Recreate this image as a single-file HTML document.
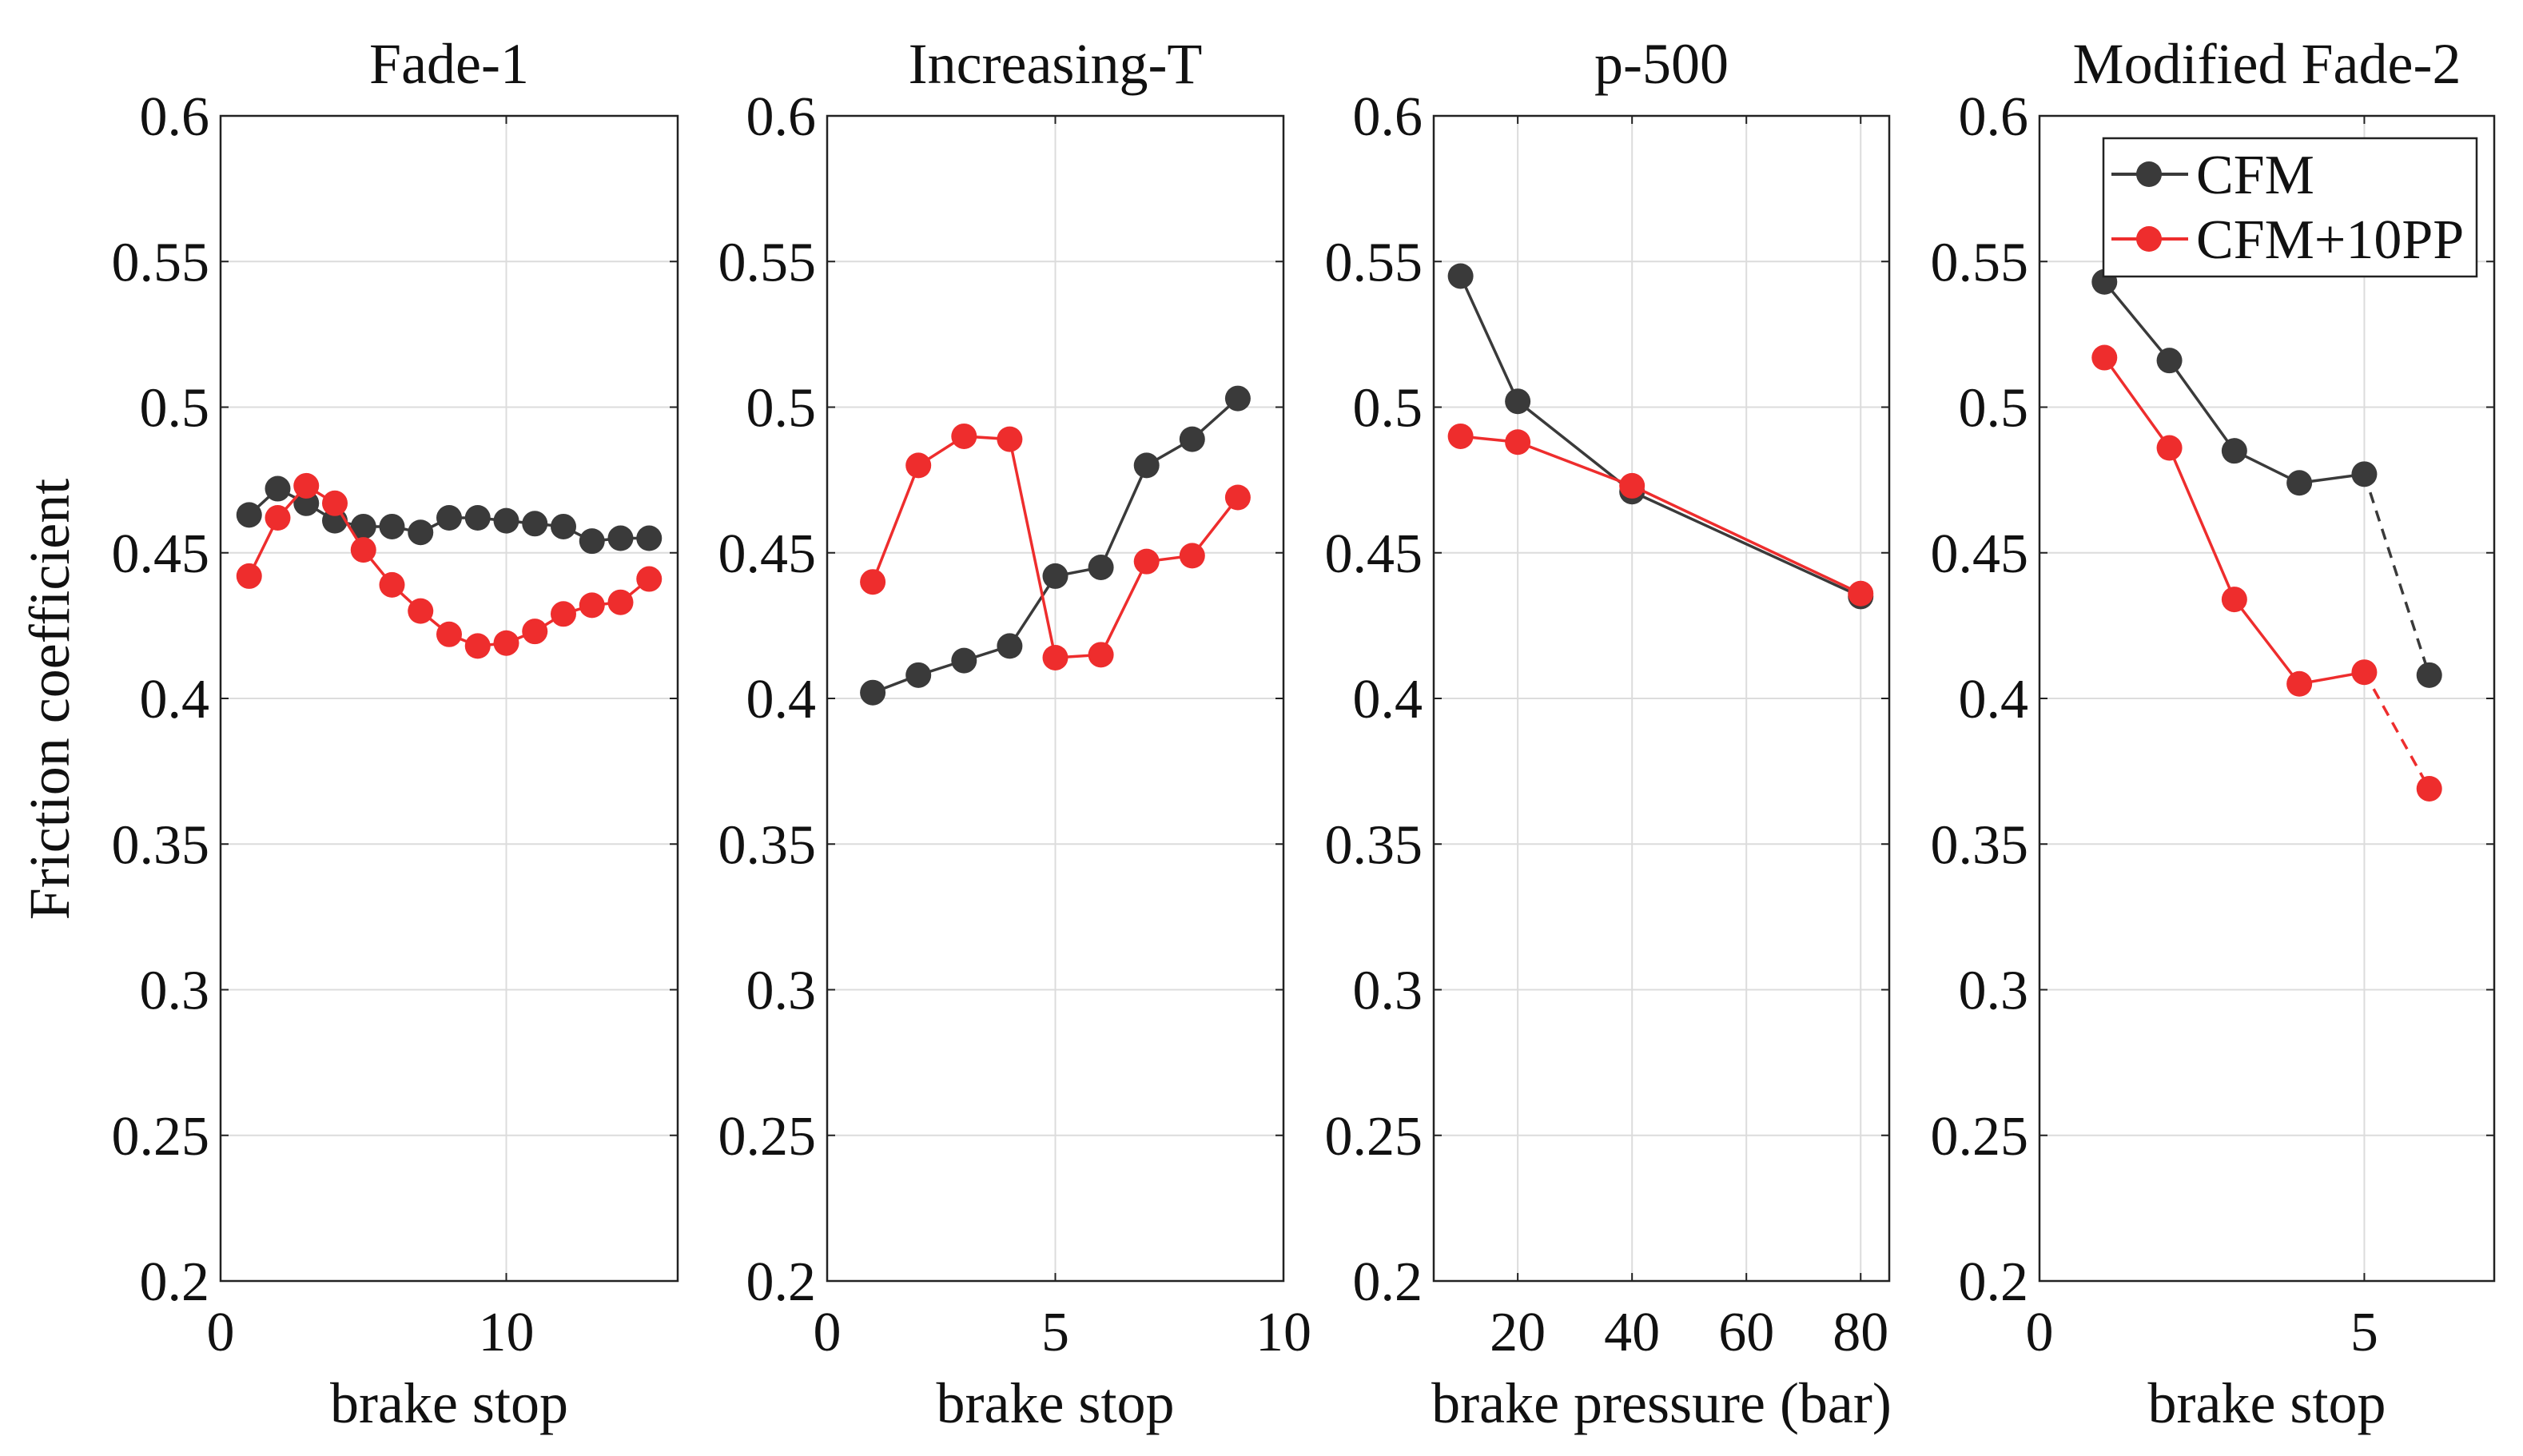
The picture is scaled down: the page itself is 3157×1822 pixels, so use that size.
<!DOCTYPE html>
<html><head><meta charset="utf-8">
<style>
html,body{margin:0;padding:0;background:#fff;}
svg{display:block;}
text{font-family:"Liberation Serif","DejaVu Serif",serif;fill:#111;}
</style></head>
<body>
<svg id="chart" width="3157" height="1822" viewBox="0 0 3157 1822" xmlns="http://www.w3.org/2000/svg" font-family="Liberation Serif, DejaVu Serif, serif">
<text x="0" y="0" font-size="72" font-family="Liberation Serif, DejaVu Serif, serif" text-anchor="middle" transform="translate(86,875) rotate(-90)">Friction coefficient</text>
</svg>
<script>
const yTicks = [0.2,0.25,0.3,0.35,0.4,0.45,0.5,0.55,0.6];
const yTickLabels = ["0.2","0.25","0.3","0.35","0.4","0.45","0.5","0.55","0.6"];
const titles = ["Fade-1","Increasing-T","p-500","Modified Fade-2"];
const xLabels = ["brake stop","brake stop","brake pressure (bar)","brake stop"];
const xTicks1 = [0,10];
const xTicks2 = [0,5,10];
const xTicks3 = [20,40,60,80];
const xTicks4 = [0,5];
const fade1X = [1,2,3,4,5,6,7,8,9,10,11,12,13,14,15];
const fade1CFM = [0.463,0.472,0.467,0.461,0.459,0.459,0.457,0.462,0.462,0.461,0.460,0.459,0.454,0.455,0.455];
const fade1PP = [0.442,0.462,0.473,0.467,0.451,0.439,0.430,0.422,0.418,0.419,0.423,0.429,0.432,0.433,0.441];
const incX = [1,2,3,4,5,6,7,8,9];
const incCFM = [0.402,0.408,0.413,0.418,0.442,0.445,0.480,0.489,0.503];
const incPP = [0.440,0.480,0.490,0.489,0.414,0.415,0.447,0.449,0.469];
const p500X = [10,20,40,80];
const p500CFM = [0.545,0.502,0.471,0.435];
const p500PP = [0.490,0.488,0.473,0.436];
const mf2X = [1,2,3,4,5,6];
const mf2CFM = [0.543,0.516,0.485,0.474,0.477,0.408];
const mf2PP = [0.517,0.486,0.434,0.405,0.409,0.369];

const NS="http://www.w3.org/2000/svg";
const FF="Liberation Serif, DejaVu Serif, serif";
const svg=document.getElementById('chart');
function mk(tag,attrs,parent){const e=document.createElementNS(NS,tag);for(const k in attrs)e.setAttribute(k,attrs[k]);if(tag==='text')e.setAttribute('font-family',FF);(parent||svg).appendChild(e);return e;}
const Y0=1603,Y1=145,YMIN=0.2,YMAX=0.6;
function yScale(v){return Y0-(v-YMIN)/(YMAX-YMIN)*(Y0-Y1);}
const BLACK="#3a3a3a",RED="#ee2d2d";
const panels=[
 {l:276,r:848,xmin:0,xmax:16,ticks:xTicks1,x:fade1X,a:fade1CFM,b:fade1PP,dash:0},
 {l:1035,r:1606,xmin:0,xmax:10,ticks:xTicks2,x:incX,a:incCFM,b:incPP,dash:0},
 {l:1794,r:2364,xmin:5.3,xmax:85,ticks:xTicks3,x:p500X,a:p500CFM,b:p500PP,dash:0},
 {l:2552,r:3121,xmin:0,xmax:7,ticks:xTicks4,x:mf2X,a:mf2CFM,b:mf2PP,dash:1}
];
panels.forEach((p,i)=>{
 const g=mk('g',{});
 
 
 const xs=v=>p.l+(v-p.xmin)/(p.xmax-p.xmin)*(p.r-p.l);
 yTicks.forEach((t,j)=>{
  const y=yScale(t);
  const gl=mk('line',{x1:p.l,x2:p.r,y1:y,y2:y,stroke:'#dcdcdc','stroke-width':2},g);
  
  
  mk('line',{x1:p.l,x2:p.l+10,y1:y,y2:y,stroke:'#222','stroke-width':2},g);
  mk('line',{x1:p.r-10,x2:p.r,y1:y,y2:y,stroke:'#222','stroke-width':2},g);
  const tl=mk('text',{x:p.l-14,y:y+24,'font-size':70,'text-anchor':'end'},g);
  tl.textContent=yTickLabels[j];
  
  
 });
 p.ticks.forEach(t=>{
  const x=xs(t);
  const gl=mk('line',{x1:x,x2:x,y1:Y1,y2:Y0,stroke:'#dcdcdc','stroke-width':2},g);
  
  
  mk('line',{x1:x,x2:x,y1:Y0-10,y2:Y0,stroke:'#222','stroke-width':2},g);
  mk('line',{x1:x,x2:x,y1:Y1,y2:Y1+10,stroke:'#222','stroke-width':2},g);
  const tl=mk('text',{x:x,y:1690,'font-size':70,'text-anchor':'middle'},g);
  tl.textContent=String(t);
  
  
 });
 const box=mk('rect',{x:p.l,y:Y1,width:p.r-p.l,height:Y0-Y1,fill:'none',stroke:'#222','stroke-width':2.5},g);
 
 
 const tt=mk('text',{x:(p.l+p.r)/2,y:104,'font-size':72,'text-anchor':'middle'},g);
 tt.textContent=titles[i];
 
 
 const xl=mk('text',{x:(p.l+p.r)/2,y:1780,'font-size':72,'text-anchor':'middle'},g);
 xl.textContent=xLabels[i];
 
 
 [[p.a,BLACK,'cfm'],[p.b,RED,'cfm-10pp']].forEach(([vals,col,nm])=>{
  const n=vals.length;
  const solidN=p.dash?n-1:n;
  let d='';
  for(let k=0;k<solidN;k++)d+=(k?'L':'M')+xs(p.x[k])+','+yScale(vals[k]);
  const ln=mk('path',{d:d,fill:'none',stroke:col,'stroke-width':3.5},g);
  
  
  if(p.dash){
   const dl=mk('line',{x1:xs(p.x[n-2]),y1:yScale(vals[n-2]),x2:xs(p.x[n-1]),y2:yScale(vals[n-1]),stroke:col,'stroke-width':3.5,'stroke-dasharray':'14,10'},g);
   
   
  }
  for(let k=0;k<n;k++){
   const c=mk('circle',{cx:xs(p.x[k]),cy:yScale(vals[k]),r:16,fill:col},g);
   
   
  }
 });
});
const lg=mk('g',{});


mk('rect',{x:2632,y:173,width:467,height:173,fill:'#fff',stroke:'#222','stroke-width':2.5},lg);
[[BLACK,'CFM',218],[RED,'CFM+10PP',299]].forEach(([col,lab,y])=>{
 const e=mk('g',{},lg);
 
 
 mk('line',{x1:2642,x2:2738,y1:y,y2:y,stroke:col,'stroke-width':4},e);
 mk('circle',{cx:2689,cy:y,r:16,fill:col},e);
 const t=mk('text',{x:2748,y:y+24,'font-size':70},e);
 t.textContent=lab;
});
</script>
</body></html>
